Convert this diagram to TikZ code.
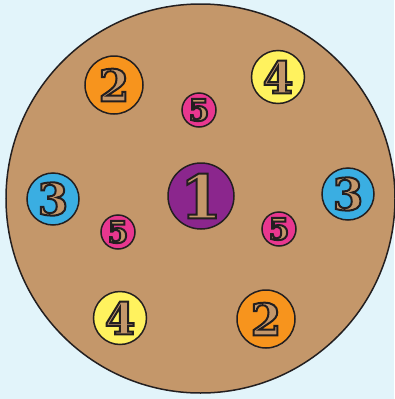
\documentclass[tikz,border=0pt]{standalone}
\usepackage{fontspec}
\setmainfont{DejaVu Serif}

\definecolor{skyback}{HTML}{E2F4FA}
\definecolor{board}{HTML}{C4976A}
\definecolor{edge}{HTML}{231F20}
\definecolor{purp}{HTML}{8B268D}
\definecolor{orng}{HTML}{F7941D}
\definecolor{yllw}{HTML}{FFF25E}
\definecolor{bluu}{HTML}{3AAEE2}
\definecolor{pnk}{HTML}{E8378F}

% hollow digit: filled with the board colour, stroked dark
\newcommand{\numb}[2]{{\fontsize{#1}{#1}\selectfont\bfseries\textcolor{board}{%
  \special{pdf:literal direct 2 Tr 2 w 0.137 0.122 0.125 RG}#2%
  \special{pdf:literal direct 0 Tr}}}}

\tikzset{
  disc/.style={circle,draw=edge,line width=1.5pt,inner sep=0pt},
  big/.style={disc,fill=purp,minimum size=66pt},
  mid/.style={disc,minimum size=#1},
  small/.style={disc,fill=pnk,minimum size=34pt}
}

\begin{document}
\begin{tikzpicture}[x=1pt,y=-1pt]
  \useasboundingbox[fill=skyback] (0,0) rectangle (394,399);
  \draw[edge,fill=board,line width=1.5pt] (200.5,198.5) circle (194.5);
  \node[big] (one) at (201,196) {\numb{60}{1}};
  \node[mid=58pt,fill=orng] (twoA) at (114,85) {\numb{44}{2}};
  \node[mid=58pt,fill=orng] (twoB) at (266,319) {\numb{44}{2}};
  \node[mid=52pt,fill=bluu] (threeA) at (53,199) {\numb{44}{3}};
  \node[mid=52pt,fill=bluu] (threeB) at (348,194) {\numb{44}{3}};
  \node[mid=53pt,fill=yllw] (fourA) at (278,77) {\numb{44}{4}};
  \node[mid=53pt,fill=yllw] (fourB) at (120,318) {\numb{44}{4}};
  \node[small] (fiveA) at (199,110) {\numb{30}{5}};
  \node[small] (fiveB) at (118,232) {\numb{30}{5}};
  \node[small] (fiveC) at (279,229) {\numb{30}{5}};
\end{tikzpicture}
\end{document}
